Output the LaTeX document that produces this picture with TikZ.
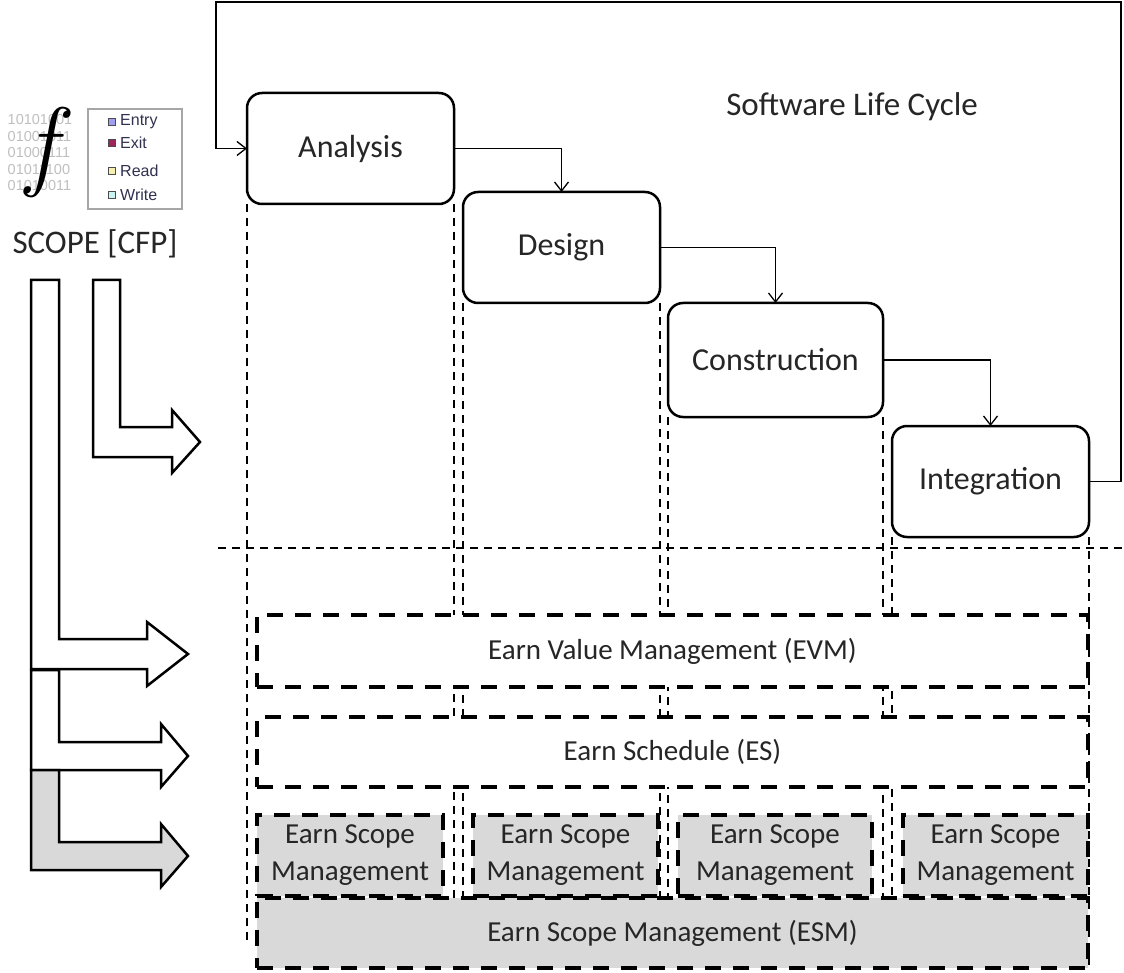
\documentclass[tikz,border=0pt]{standalone}
\usepackage{fontspec}
\setmainfont{Carlito}
\newfontfamily\legfont{Liberation Sans}
\newfontfamily\lmfam{Latin Modern Roman}
\usetikzlibrary{arrows.meta}
\definecolor{esmgray}{HTML}{D9D9D9}
\definecolor{entryc}{HTML}{9F9FEF}
\definecolor{exitc}{HTML}{A0255A}
\definecolor{readc}{HTML}{F5F0B0}
\definecolor{writec}{HTML}{C8F5F0}
\definecolor{legtext}{HTML}{303050}
\definecolor{txt}{HTML}{262626}
\begin{document}
\begin{tikzpicture}[x=1pt,y=-1pt,
  phase/.style={draw, line width=2.5pt, rounded corners=15pt, fill=white, outer sep=0pt, inner sep=0pt, text=txt, font=\fontsize{32}{38}\selectfont},
  flow/.style={line width=1.3pt, -{Straight Barb[length=9pt,width=14pt,line width=1.3pt]}},
  mgmt/.style={draw, line width=3.5pt, dash pattern=on 16pt off 12pt, fill=white, outer sep=0pt, inner sep=0pt, text=txt, font=\fontsize{29}{37}\selectfont, align=center},
  esm/.style={mgmt, fill=esmgray},
  guide/.style={line width=1.2pt, dash pattern=on 8pt off 6pt},
  barrow/.style={draw, line width=2.5pt, line join=miter, fill=white},
  sq/.style={draw=black!70, line width=0.8pt, minimum size=7pt, inner sep=0pt},
  leglab/.style={anchor=west, inner sep=0pt, text=legtext, font=\legfont\fontsize{16}{16}\selectfont},
  title/.style={inner sep=0pt, text=txt, font=\fontsize{33}{38}\selectfont},
]
\useasboundingbox (0,0) rectangle (1124,973);

% guide coordinates
\coordinate (ybot) at (0,898);
\coordinate (ylow) at (0,940);
\coordinate (yend) at (0,968);
\coordinate (hl) at (218,548);
\coordinate (hr) at (1124,548);

% phases
\node[phase, minimum width=207pt, minimum height=111pt] (ana) at (350.5,148.5) {Analysis};
\node[phase, minimum width=197pt, minimum height=111pt] (des) at (561.5,247.5) {Design};
\node[phase, minimum width=215pt, minimum height=114pt] (con) at (775.5,360) {Construction};
\node[phase, minimum width=197pt, minimum height=111pt] (int) at (990.5,481.5) {Integration};

\node[title] (slc) at (852,107) {Software Life Cycle};

% guide lines
\draw[guide] (ana.south west) -- (ana.south west |- ylow);
\draw[guide] (ana.south east) -- (ana.south east |- ybot);
\draw[guide] (des.south west) -- (des.south west |- ybot);
\draw[guide] (des.south east) -- (des.south east |- ybot);
\draw[guide] (con.south west) -- (con.south west |- ybot);
\draw[guide] (con.south east) -- (con.south east |- ybot);
\draw[guide] (int.south west) -- (int.south west |- ybot);
\draw[guide] (int.south east) -- (int.south east |- yend);
\draw[guide] (hl) -- (hr);

% flow connectors
\draw[flow] (ana.east) -| (des.north);
\draw[flow] (des.east) -| (con.north);
\draw[flow] (con.east) -| (int.north);
\coordinate (fbR) at (1121,2);
\coordinate (fbL) at (216,2);
\draw[flow] (int.east) -| (fbR) -- (fbL) |- (ana.west);

% management boxes
\node[mgmt, minimum width=831pt, minimum height=72pt] (evm) at (672.5,651) {Earn Value Management (EVM)};
\node[mgmt, minimum width=831pt, minimum height=70pt] (es) at (672.5,752) {Earn Schedule (ES)};
\node[esm, minimum width=186pt, minimum height=81pt] (esm1) at (350,855.5) {Earn Scope\\Management};
\node[esm, minimum width=185pt, minimum height=81pt] (esm2) at (565.5,855.5) {Earn Scope\\Management};
\node[esm, minimum width=194pt, minimum height=81pt] (esm3) at (775,855.5) {Earn Scope\\Management};
\node[esm, minimum width=185pt, minimum height=81pt] (esm4) at (995.5,855.5) {Earn Scope\\Management};
\node[esm, minimum width=831pt, minimum height=70pt] (esm) at (672.5,933) {Earn Scope Management (ESM)};

% bent block arrows
\draw[barrow] (93,280) -- (120,280) -- (120,427) -- (172,427) -- (172,410) -- (200,442) -- (172,473) -- (172,457) -- (93,457) -- cycle;
\draw[barrow] (31,280) -- (59,280) -- (59,639) -- (147,639) -- (147,622) -- (188,654) -- (147,686) -- (147,669) -- (31,669) -- cycle;
\draw[barrow] (31,670) -- (59,670) -- (59,742) -- (161,742) -- (161,724) -- (188,756) -- (161,787) -- (161,770) -- (31,770) -- cycle;
\draw[barrow, fill=esmgray] (31,770) -- (59,770) -- (59,842) -- (161,842) -- (161,824) -- (188,856) -- (161,887) -- (161,870) -- (31,870) -- cycle;

% COSMIC icon
\node[inner sep=0pt, align=left, text=black!25, font=\legfont\fontsize{14.5}{16.5}\selectfont] (bits) at (40,153) {10101001\\01001011\\01000111\\01011100\\01010011};
\node[inner sep=0pt, font=\lmfam\itshape\fontsize{100}{100}\selectfont] (fsym) at (41,153) {f};
\node[draw=gray!70, line width=1.3pt, minimum width=94pt, minimum height=100pt, inner sep=0pt] (leg) at (135,159) {};
\node[sq, fill=entryc] (s1) at (112,122) {};
\node[sq, fill=exitc] (s2) at (112,143) {};
\node[sq, fill=readc] (s3) at (112,171) {};
\node[sq, fill=writec] (s4) at (112,195) {};
\node[leglab] (l1) at (120,122) {Entry};
\node[leglab] (l2) at (120,143) {Exit};
\node[leglab] (l3) at (120,171) {Read};
\node[leglab] (l4) at (120,195) {Write};
\node[title] (scope) at (95,244) {SCOPE [CFP]};
\end{tikzpicture}
\end{document}
